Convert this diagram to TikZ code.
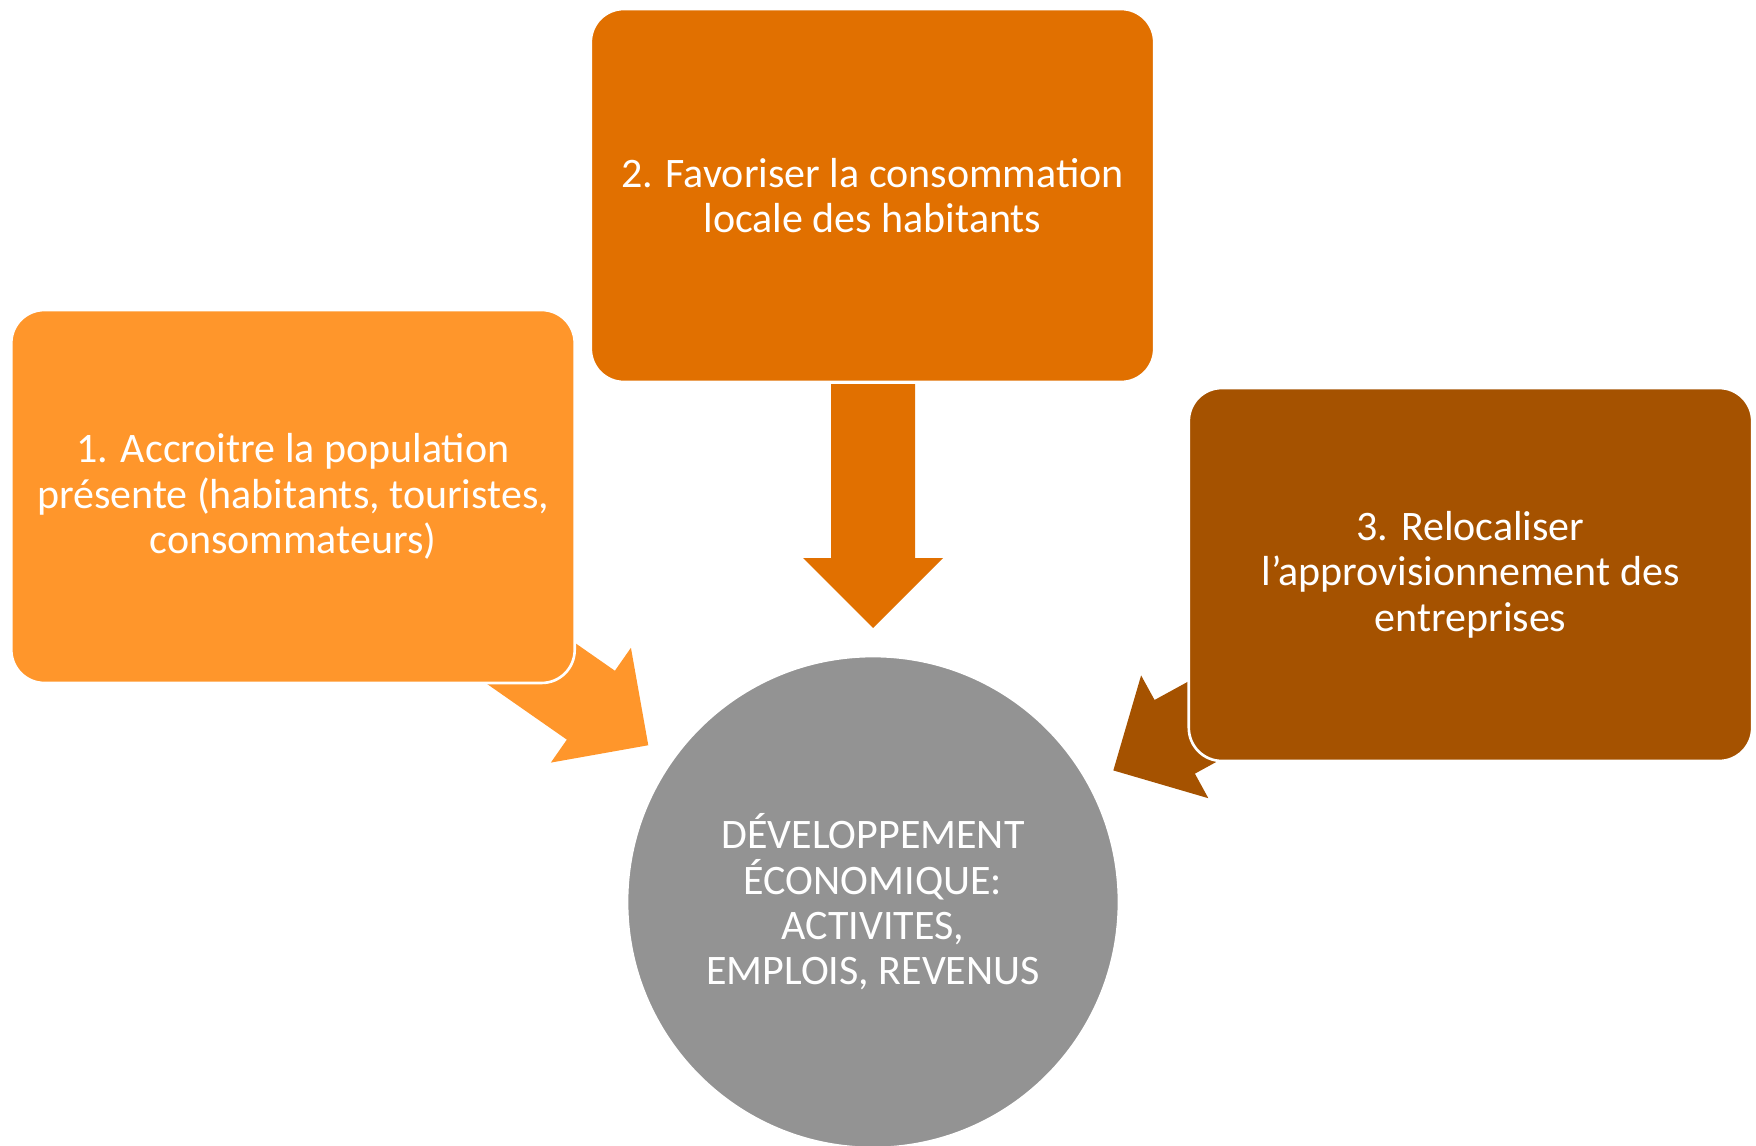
\documentclass[tikz,border=0pt]{standalone}
\usepackage{fontspec}
\setmainfont{Carlito}

\definecolor{accroitre}{RGB}{255,150,43}
\definecolor{favoriser}{RGB}{225,112,0}
\definecolor{relocaliser}{RGB}{165,82,0}
\definecolor{devgris}{RGB}{147,147,147}

\begin{document}
\begin{tikzpicture}[x=0.02cm, y=-0.02cm,
  box/.style={shape=rectangle, rounded corners=0.66cm, draw=white, line width=1.5pt,
    minimum width=11.27cm, minimum height=7.46cm, text=white, align=center,
    font=\fontsize{23.9}{25.8}\selectfont},
  dev/.style={shape=circle, draw=white, line width=1.5pt, fill=devgris, minimum size=9.84cm,
    text=white, align=center, font=\fontsize{23.9}{25.8}\selectfont}]
\useasboundingbox (0,0) rectangle (1756,1146);
% centre
\node[dev] (D) at (873,902) {DÉVELOPPEMENT\\ÉCONOMIQUE:\\ACTIVITES,\\EMPLOIS, REVENUS};
% arrows towards the centre
\begin{scope}[shift={(D.center)}, rotate=145.1]
\fill[accroitre] (274,0) -- (344,70) -- (344,42) -- (518,42) -- (518,-42) -- (344,-42) -- (344,-70) -- cycle;
\end{scope}
\begin{scope}[shift={(D.center)}, rotate=90]
\fill[favoriser] (274,0) -- (344,70) -- (344,42) -- (518,42) -- (518,-42) -- (344,-42) -- (344,-70) -- cycle;
\end{scope}
\begin{scope}[shift={(D.center)}, rotate=28.7]
\fill[relocaliser] (274,0) -- (344,70) -- (344,42) -- (518,42) -- (518,-42) -- (344,-42) -- (344,-70) -- cycle;
\end{scope}
% boxes
\node[box, fill=accroitre] (1) at (293,496.5) {1. Accroitre la population\\présente (habitants, touristes,\\consommateurs)};
\node[box, fill=favoriser] (2) at (872.5,195.5) {2. Favoriser la consommation\\locale des habitants};
\node[box, fill=relocaliser] (3) at (1470.5,574.5) {3. Relocaliser\\l’approvisionnement des\\entreprises};
\end{tikzpicture}
\end{document}
